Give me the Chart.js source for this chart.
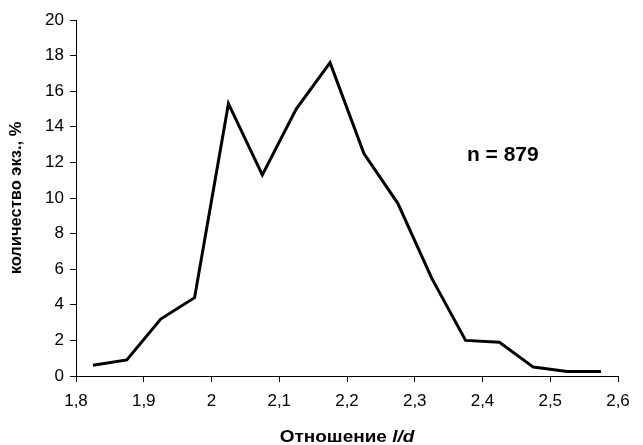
<!DOCTYPE html>
<html>
<head>
<meta charset="utf-8">
<script src="https://cdn.jsdelivr.net/npm/chart.js@4.4.0/dist/chart.umd.min.js"></script>
<style>
html,body{margin:0;padding:0;background:#fff;}
#wrap{width:643px;height:445px;position:relative;}
</style>
</head>
<body>
<div id="wrap"><canvas id="c" width="643" height="445"></canvas></div>
<script>
const ratios = [1.825, 1.875, 1.925, 1.975, 2.025, 2.075, 2.125, 2.175, 2.225, 2.275, 2.325, 2.375, 2.425, 2.475, 2.525, 2.575];
const percents = [0.6, 0.9, 3.2, 4.4, 15.3, 11.3, 15.0, 17.6, 12.5, 9.7, 5.5, 2.0, 1.9, 0.5, 0.25, 0.25];
const xTitleMain = 'Отношение ';
const xTitleItalic = 'l/d';
const yTitle = 'количество экз., %';
const annotationText = 'n = 879';
const annotationAt = {x: 2.43, y: 12.4};

const FONT = '"Liberation Sans", Arial, sans-serif';

function fmt(v){
  return Number(v.toFixed(1)).toString().replace('.', ',');
}

const extras = {
  id: 'extras',
  afterDraw(chart){
    const ctx = chart.ctx;
    const xs = chart.scales.x, ys = chart.scales.y;
    ctx.save();
    ctx.fillStyle = '#000';
    // annotation
    ctx.font = 'bold 21px ' + FONT;
    ctx.textAlign = 'center';
    ctx.textBaseline = 'middle';
    ctx.fillText(annotationText, xs.getPixelForValue(annotationAt.x), ys.getPixelForValue(annotationAt.y));
    // x title with italic part
    const f1 = 'bold 16.5px ' + FONT;
    const f2 = 'italic bold 16.5px ' + FONT;
    const sx = 1.15;
    ctx.font = f1; const w1 = ctx.measureText(xTitleMain).width;
    ctx.font = f2; const w2 = ctx.measureText(xTitleItalic).width;
    const cx = (chart.chartArea.left + chart.chartArea.right) / 2;
    const ty = chart.height - 8;
    ctx.translate(cx, ty);
    ctx.scale(sx, 1);
    const start = -(w1 + w2) / 2;
    ctx.textAlign = 'left';
    ctx.textBaseline = 'middle';
    ctx.font = f1; ctx.fillText(xTitleMain, start, 0);
    ctx.font = f2; ctx.fillText(xTitleItalic, start + w1, 0);
    ctx.restore();
  }
};

new Chart(document.getElementById('c'), {
  type: 'line',
  data: {
    datasets: [{
      data: ratios.map((r, i) => ({x: r, y: percents[i]})),
      borderColor: '#000',
      borderWidth: 3,
      pointRadius: 0,
      tension: 0,
      fill: false
    }]
  },
  options: {
    responsive: false,
    animation: false,
    layout: {padding: {left: 0, right: 25, top: 20, bottom: 0}},
    plugins: {legend: {display: false}, tooltip: {enabled: false}},
    scales: {
      x: {
        type: 'linear',
        min: 1.8, max: 2.6,
        afterFit(s){ s.height = 69; },
        ticks: {stepSize: 0.1, callback: v => fmt(v), color: '#000', font: {family: FONT, size: 17}, padding: 9, maxRotation: 0},
        grid: {display: true, drawOnChartArea: false, drawTicks: true, tickLength: 6, color: '#000', lineWidth: 1},
        border: {display: true, color: '#000', width: 1}
      },
      y: {
        min: 0, max: 20,
        afterFit(s){ s.width = 76; },
        ticks: {stepSize: 2, color: '#000', font: {family: FONT, size: 17}, padding: 6},
        grid: {display: true, drawOnChartArea: false, drawTicks: true, tickLength: 6, color: '#000', lineWidth: 1},
        border: {display: true, color: '#000', width: 1},
        title: {display: true, text: yTitle, color: '#000', font: {family: FONT, size: 16.5, weight: 'bold'}, padding: {top: 7, bottom: 0}}
      }
    }
  },
  plugins: [extras]
});
</script>
</body>
</html>
